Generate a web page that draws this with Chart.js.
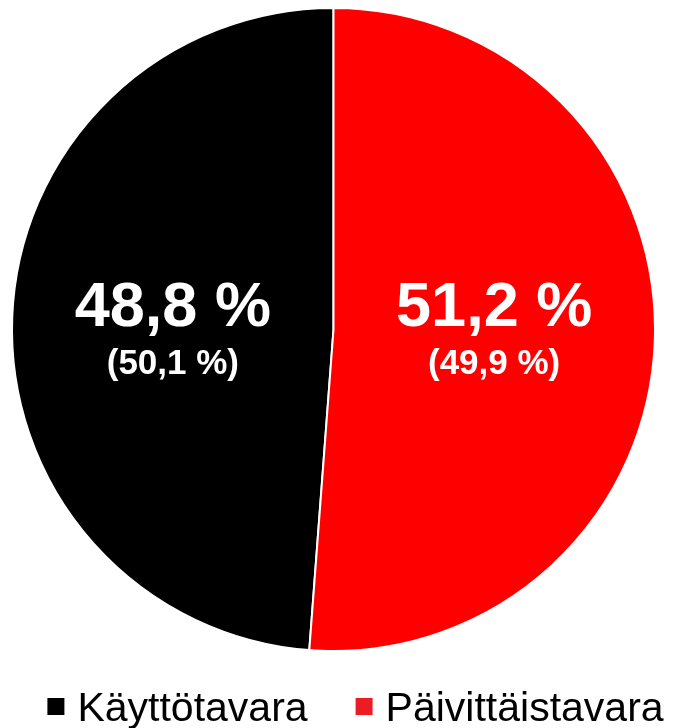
<!DOCTYPE html>
<html>
<head>
<meta charset="utf-8">
<script src="https://cdn.jsdelivr.net/npm/chart.js@4/dist/chart.umd.min.js"></script>
<style>
  html, body { margin: 0; padding: 0; background: #ffffff; }
  #wrap { width: 677px; height: 728px; }
</style>
</head>
<body>
<div id="wrap"><canvas id="c" width="677" height="728"></canvas></div>
<script>
// ---- data ----
const categories = ["Käyttötavara", "Päivittäistavara"];
const shares = [48.8, 51.2];          // current share, %
const previousShares = [50.1, 49.9];  // shown in brackets, %

// ---- styles ----
const sliceColors = ["#000000", "#FF0000"];
const legendColors = ["#000000", "#ED1C24"];
const FONT = "'Liberation Sans', Arial, sans-serif";

const fmt = v => v.toFixed(1).replace(".", ",") + " %";

const total = shares.reduce((a, b) => a + b, 0);
const rotation = -shares[0] / total * 360;

const labelPlugin = {
  id: "sliceLabels",
  afterDatasetsDraw(chart) {
    const ctx = chart.ctx;
    const meta = chart.getDatasetMeta(0);
    meta.data.forEach((arc, i) => {
      const p = arc.getProps(["x", "y", "startAngle", "endAngle", "outerRadius"], true);
      const mid = (p.startAngle + p.endAngle) / 2;
      const r = p.outerRadius * 0.5;
      const x = p.x + Math.cos(mid) * r;
      const y = p.y;
      ctx.save();
      ctx.fillStyle = "#ffffff";
      ctx.textAlign = "center";
      ctx.textBaseline = "alphabetic";
      ctx.font = "bold 63px " + FONT;
      ctx.fillText(fmt(shares[i]), x, y - 4);
      ctx.font = "bold 35px " + FONT;
      ctx.fillText("(" + fmt(previousShares[i]) + ")", x, y + 44);
      ctx.restore();
    });
  }
};

const legendPlugin = {
  id: "customLegend",
  afterDraw(chart) {
    const ctx = chart.ctx;
    const box = 17, gapText = 13, gapItems = 48;
    ctx.save();
    ctx.font = "41px " + FONT;
    ctx.textBaseline = "alphabetic";
    ctx.textAlign = "left";
    const widths = chart.data.labels.map(l => box + gapText + ctx.measureText(l).width);
    const totalW = widths.reduce((a, b) => a + b, 0) + gapItems * (widths.length - 1);
    let x = (chart.width - totalW) / 2 + 17;
    const baseline = 721;
    chart.data.labels.forEach((l, i) => {
      ctx.fillStyle = legendColors[i];
      ctx.fillRect(x, baseline - 23, box, box);
      ctx.fillStyle = "#000000";
      ctx.fillText(l, x + box + gapText, baseline);
      x += widths[i] + gapItems;
    });
    ctx.restore();
  }
};

new Chart(document.getElementById("c"), {
  type: "pie",
  data: {
    labels: categories,
    datasets: [{
      data: shares,
      backgroundColor: sliceColors,
      borderColor: "#ffffff",
      borderWidth: 2
    }]
  },
  options: {
    responsive: false,
    devicePixelRatio: 1,
    animation: false,
    rotation: rotation,
    layout: { padding: { top: 7, bottom: 76, left: 0, right: 10 } },
    plugins: {
      legend: { display: false },
      tooltip: { enabled: false }
    }
  },
  plugins: [labelPlugin, legendPlugin]
});
</script>
</body>
</html>
